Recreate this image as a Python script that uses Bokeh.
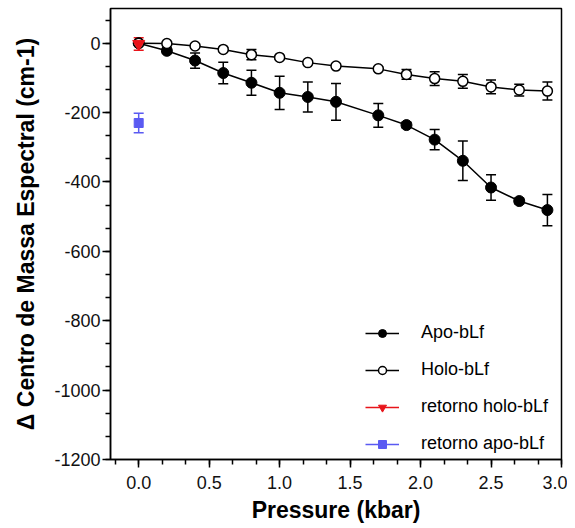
from bokeh.plotting import figure
from bokeh.models import (Range1d, FixedTicker, CustomJSTickFormatter, ColumnDataSource,
                          Whisker, TeeHead, Legend, LegendItem)
from bokeh.embed import file_html
from bokeh.resources import INLINE

# ---- data ----
pressure = [0.0, 0.2, 0.4, 0.6, 0.8, 1.0, 1.2, 1.4, 1.7, 1.9, 2.1, 2.3, 2.5, 2.7, 2.9]
apo = [0, -22, -50, -86, -114, -143, -155, -169, -208, -236, -278, -339, -416, -455, -481]
apo_err = [0, 8, 22, 31, 36, 48, 43, 53, 34, 8, 29, 57, 37, 8, 45]
holo = [0, -1, -8, -18, -33, -41, -56, -66, -74, -90, -102, -110, -126, -135, -138]
holo_err = [0, 3, 5, 5, 15, 5, 5, 5, 5, 14, 20, 20, 20, 17, 26]
ret_holo_x = [0.0]
ret_holo = [-2]
ret_holo_err = [18]
ret_apo_x = [0.0]
ret_apo = [-230]
ret_apo_err = [28]

x_major = [0.0, 0.5, 1.0, 1.5, 2.0, 2.5, 3.0]
y_major = [-1200, -1000, -800, -600, -400, -200, 0]

labels = ["Apo-bLf", "Holo-bLf", "retorno holo-bLf", "retorno apo-bLf"]

RED = "#e8141a"
BLUE = "#5a5af2"
FONT = "Liberation Sans"

p = figure(width=567, height=528, output_backend="svg", toolbar_location=None,
           x_range=Range1d(-0.2, 3.0), y_range=Range1d(-1200, 100),
           min_border_left=110, min_border_right=6, min_border_top=8, min_border_bottom=69)
p.background_fill_color = "white"
p.border_fill_color = "white"
p.grid.visible = False
p.outline_line_color = "black"
p.outline_line_width = 1.5
p.outline_line_alpha = 1.0

xm = []
for i in range(-1, 19):
    v = i / 6.0
    if -0.2 <= v <= 3.0:
        xm.append(v)
ym = []
for i in range(-18, 2):
    v = i * 200.0 / 3.0
    if -1200 <= v <= 100:
        ym.append(v)

p.xaxis.ticker = FixedTicker(ticks=x_major, minor_ticks=xm)
p.yaxis.ticker = FixedTicker(ticks=y_major, minor_ticks=ym)
p.xaxis.formatter = CustomJSTickFormatter(code="return tick.toFixed(1);")
p.yaxis.formatter = CustomJSTickFormatter(code="return tick.toFixed(0);")

for ax in (p.xaxis[0], p.yaxis[0]):
    ax.axis_line_color = "black"
    ax.axis_line_width = 1.5
    ax.major_tick_line_color = "black"
    ax.major_tick_line_width = 1.5
    ax.minor_tick_line_color = "black"
    ax.minor_tick_line_width = 1.5
    ax.major_tick_in = 0
    ax.major_tick_out = 8
    ax.minor_tick_in = 0
    ax.minor_tick_out = 5
    ax.major_label_text_font = FONT
    ax.major_label_text_font_size = "18px"
    ax.major_label_text_color = "#111111"
    ax.axis_label_text_font = FONT
    ax.axis_label_text_font_style = "bold"
    ax.axis_label_text_font_size = "23px"
    ax.axis_label_text_color = "black"

p.xaxis.axis_label = "Pressure (kbar)"
p.yaxis.axis_label = "\u0394 Centro de Massa Espectral (cm-1)"
p.xaxis.major_label_standoff = 8
p.yaxis.major_label_standoff = 2
p.xaxis.axis_label_standoff = 5
p.yaxis.axis_label_standoff = 12


def add_err(xs, ys, errs, color):
    src = ColumnDataSource(dict(x=xs, lo=[y - e for y, e in zip(ys, errs)],
                                hi=[y + e for y, e in zip(ys, errs)]))
    w = Whisker(source=src, base="x", lower="lo", upper="hi",
                line_color=color, line_width=1.5,
                lower_head=TeeHead(size=10, line_color=color, line_width=1.5),
                upper_head=TeeHead(size=10, line_color=color, line_width=1.5))
    p.add_layout(w)


# Apo
add_err(pressure, apo, apo_err, "black")
l_apo = p.line(pressure, apo, line_color="black", line_width=1.5)
s_apo = p.scatter(pressure, apo, marker="circle", size=11, fill_color="black",
                  line_color="black")

# Holo
add_err(pressure, holo, holo_err, "black")
l_holo = p.line(pressure, holo, line_color="black", line_width=1.5)
s_holo = p.scatter(pressure, holo, marker="circle", size=10, fill_color="white",
                   line_color="black", line_width=1.5)

# retorno holo
add_err(ret_holo_x, ret_holo, ret_holo_err, RED)
l_rh = p.line(ret_holo_x, ret_holo, line_color=RED, line_width=1.5)
s_rh = p.scatter(ret_holo_x, ret_holo, marker="inverted_triangle", size=12,
                 fill_color=RED, line_color=RED)

# retorno apo
add_err(ret_apo_x, ret_apo, ret_apo_err, BLUE)
l_ra = p.line(ret_apo_x, ret_apo, line_color=BLUE, line_width=1.5)
s_ra = p.scatter(ret_apo_x, ret_apo, marker="square", size=9,
                 fill_color=BLUE, line_color=BLUE)

legend = Legend(items=[
    LegendItem(label=labels[0], renderers=[l_apo, s_apo]),
    LegendItem(label=labels[1], renderers=[l_holo, s_holo]),
    LegendItem(label=labels[2], renderers=[l_rh, s_rh]),
    LegendItem(label=labels[3], renderers=[l_ra, s_ra]),
], location=(255, 5), orientation="vertical")
legend.border_line_color = None
legend.background_fill_alpha = 0
legend.padding = 0
legend.margin = 0
legend.spacing = 16
legend.glyph_width = 34
legend.glyph_height = 20
legend.label_height = 20
legend.label_standoff = 22
legend.label_text_font = FONT
legend.label_text_font_size = "18px"
legend.label_text_color = "black"
p.add_layout(legend, "center")

open("out.html", "w").write(file_html(p, INLINE))
